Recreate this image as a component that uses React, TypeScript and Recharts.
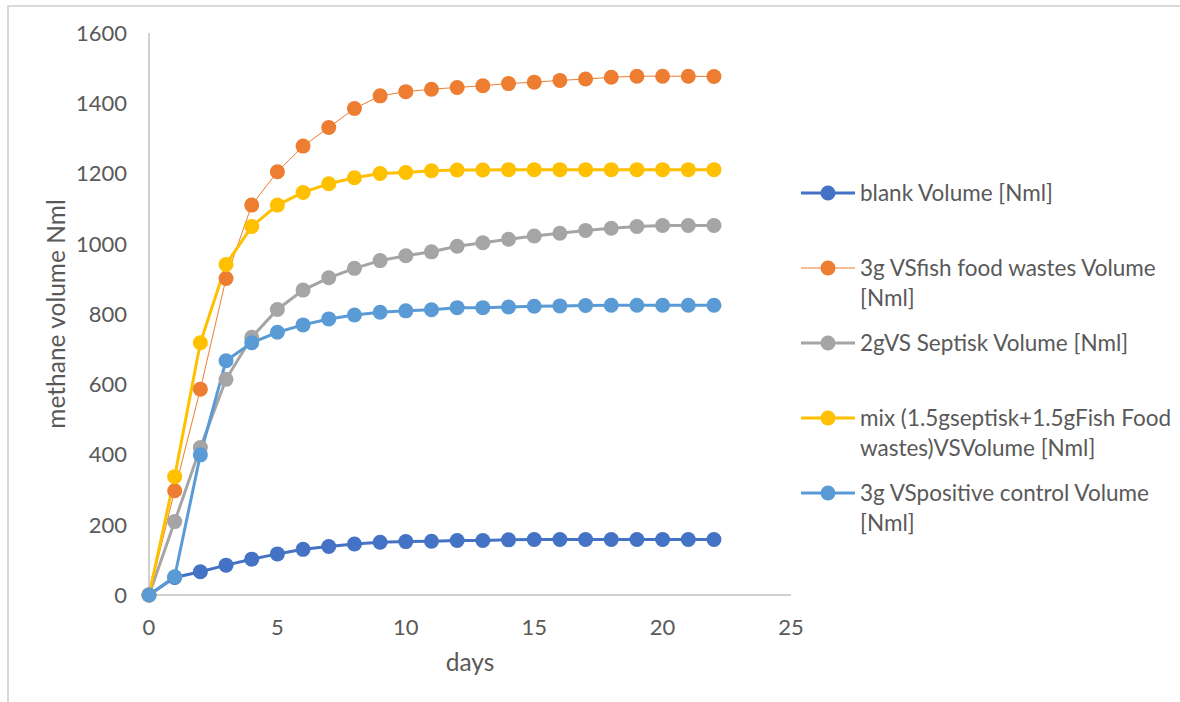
import React from "react";
import { LineChart, Line, XAxis, YAxis } from "recharts";

const days = [0, 1, 2, 3, 4, 5, 6, 7, 8, 9, 10, 11, 12, 13, 14, 15, 16, 17, 18, 19, 20, 21, 22];

const blank = [0, 50, 66, 85, 102, 117, 130, 138, 145, 150, 152, 153, 155, 155, 157, 158, 158, 158, 158, 158, 158, 158, 158];
const fishFood = [0, 297, 586, 901, 1110, 1205, 1278, 1331, 1385, 1421, 1433, 1440, 1445, 1450, 1456, 1460, 1465, 1469, 1474, 1477, 1477, 1477, 1476];
const septisk = [0, 209, 420, 614, 734, 813, 868, 903, 930, 952, 966, 977, 993, 1003, 1013, 1022, 1030, 1038, 1044, 1049, 1052, 1052, 1052];
const mix = [0, 337, 718, 941, 1049, 1110, 1146, 1171, 1188, 1200, 1203, 1208, 1210, 1210, 1211, 1211, 1211, 1211, 1211, 1211, 1211, 1211, 1211];
const positive = [0, 52, 399, 667, 718, 748, 769, 786, 797, 805, 809, 812, 818, 818, 820, 822, 823, 824, 825, 825, 825, 825, 825];

const xTicks = [0, 5, 10, 15, 20, 25];
const yTicks = [0, 200, 400, 600, 800, 1000, 1200, 1400, 1600];

const series = [
  { key: "blank", name: "blank Volume [Nml]", color: "#4472C4", width: 3 },
  { key: "fish", name: "3g VSfish food wastes Volume [Nml]", color: "#ED7D31", width: 1 },
  { key: "septisk", name: "2gVS Septisk Volume [Nml]", color: "#A5A5A5", width: 3 },
  { key: "mix", name: "mix (1.5gseptisk+1.5gFish Food wastes)VSVolume [Nml]", color: "#FFC000", width: 3 },
  { key: "positive", name: "3g VSpositive control Volume [Nml]", color: "#5B9BD5", width: 3 },
];

const data = days.map((d, i) => ({
  day: d,
  blank: blank[i],
  fish: fishFood[i],
  septisk: septisk[i],
  mix: mix[i],
  positive: positive[i],
}));

const FONT = "Lato, 'Open Sans', sans-serif";
const TEXT = "#595959";
const AXIS = "#d0d0d0";

// Excel-style legend: each entry gets a two-line slot, marker on first line
function ExcelLegend() {
  return (
    <div
      style={{
        position: "absolute", left: 800, top: 178,
        fontFamily: FONT, fontSize: 22.5, color: TEXT, lineHeight: "30px",
      }}
    >
      {series.map(s => (
        <div key={s.key} style={{ display: "flex", height: 60, marginBottom: 15 }}>
          <svg width={60} height={30} style={{ flex: "none" }}>
            <line x1={1} y1={15} x2={55} y2={15} stroke={s.color} strokeWidth={s.width} />
            <circle cx={28} cy={15} r={7.5} fill={s.color} />
          </svg>
          <div style={{ width: 312 }}>{s.name}</div>
        </div>
      ))}
    </div>
  );
}

export default function App() {
  return (
    <div style={{ position: "absolute", left: 0, top: 0, width: 1180, height: 702, overflow: "hidden", background: "#fff" }}>
      <div
        style={{
          position: "absolute", left: 7, top: 5, width: 1200, height: 720,
          borderTop: "2px solid #d9d9d9", borderLeft: "2px solid #d9d9d9",
        }}
      />
      <LineChart
        width={1180}
        height={702}
        data={data}
        margin={{ top: 33, right: 389, left: 0, bottom: 27 }}
        style={{ position: "absolute", left: 0, top: 0 }}
      >
        <XAxis
          dataKey="day"
          type="number"
          domain={[0, 25]}
          ticks={xTicks}
          height={80}
          tickSize={0}
          tickMargin={24}
          tick={{ fill: TEXT, fontSize: 22, fontFamily: FONT }}
          axisLine={{ stroke: AXIS, strokeWidth: 2 }}
          label={{ value: "days", position: "insideBottom", offset: 4, fill: TEXT, fontSize: 24.5, fontFamily: FONT }}
        />
        <YAxis
          domain={[0, 1600]}
          ticks={yTicks}
          width={149}
          tickSize={0}
          tickMargin={22}
          tick={{ fill: TEXT, fontSize: 22, fontFamily: FONT }}
          axisLine={{ stroke: AXIS, strokeWidth: 2 }}
          label={{
            content: ({ viewBox }: any) => {
              const cx = 55;
              const cy = viewBox.y + viewBox.height / 2;
              return (
                <text x={cx} y={cy} transform={`rotate(-90 ${cx} ${cy})`} textAnchor="middle"
                  dominantBaseline="central" fill={TEXT} fontSize={24.5} fontFamily={FONT}>
                  methane volume Nml
                </text>
              );
            },
          }}
        />
        {series.map(s => (
          <Line
            key={s.key}
            dataKey={s.key}
            name={s.name}
            type="linear"
            stroke={s.color}
            strokeWidth={s.width}
            dot={{ r: 7.5, fill: s.color, stroke: "none" }}
            activeDot={false}
            isAnimationActive={false}
          />
        ))}
      </LineChart>
      <ExcelLegend />
    </div>
  );
}
